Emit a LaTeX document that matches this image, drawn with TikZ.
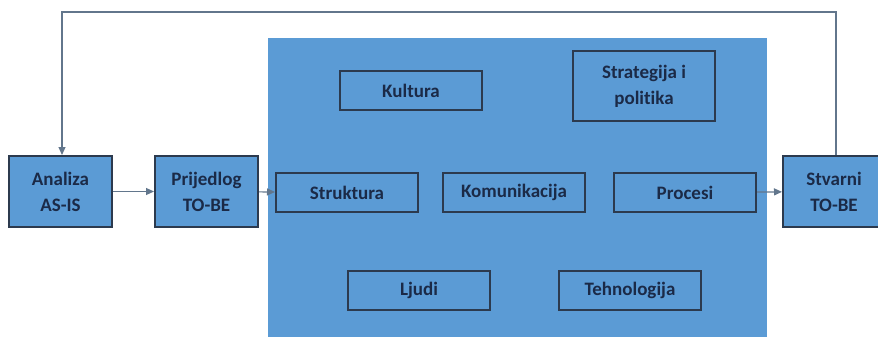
\documentclass[tikz,border=0pt]{standalone}
\usepackage{fontspec}
\setmainfont[RawFeature=-liga]{Carlito}
\usepackage{tikz}
\usetikzlibrary{arrows.meta, positioning}
\usepackage{xcolor}
\definecolor{panelblue}{HTML}{5B9BD5}
\definecolor{boxline}{HTML}{2C3A4E}
\definecolor{boxtext}{HTML}{1B2A47}
\definecolor{arrowgray}{HTML}{62768C}

\begin{document}
\begin{tikzpicture}[
    x=1pt, y=-1pt,
    box/.style={rectangle, draw=boxline, line width=2pt, fill=panelblue, text=boxtext,
        font=\fontsize{19}{26}\selectfont\bfseries, align=center, inner sep=0pt},
    stepbox/.style={box, minimum width=103pt, minimum height=71pt},
    areabox/.style={box, minimum width=142pt, minimum height=39pt},
    panel/.style={rectangle, fill=panelblue, draw=none, inner sep=0pt, minimum width=499pt, minimum height=305pt},
    link/.style={draw=arrowgray, line width=1.2pt, -{Triangle[length=8pt, width=7pt]}},
    node distance=41pt
]
\useasboundingbox (0,0) rectangle (878,337);

% big panel
\node[panel, anchor=north west] (panel) at (268,38) {};

% steps
\node[stepbox] (analiza) at (60.5,191.5) {Analiza\\AS-IS};
\node[stepbox, right=41pt of analiza] (prijedlog) {Prijedlog\\TO-BE};
\node[stepbox, minimum width=102pt] (stvarni) at (834,191.5) {Stvarni\\TO-BE};

% areas inside panel
\node[areabox] (struktura) at (347,192.5) {Struktura};
\node[areabox] (komunikacija) at (514,192.5) {Komunikacija};
\node[areabox] (procesi) at (685,192.5) {Procesi};
\node[areabox] (kultura) at (411,90.5) {Kultura};
\node[areabox, minimum height=70pt] (strategija) at (644,86) {Strategija i\\politika};
\node[areabox] (ljudi) at (419,290.5) {Ljudi};
\node[areabox] (tehnologija) at (630,290.5) {Tehnologija};

% arrows
\draw[link] (analiza) -- (prijedlog);
\draw[link] (prijedlog) -- (struktura);
\draw[link] (procesi) -- (stvarni);

% feedback loop
\draw[link]
  (stvarni.north -| 836,0)
  |- (62,12)
  -- (analiza.north -| 62,0);

\end{tikzpicture}
\end{document}
